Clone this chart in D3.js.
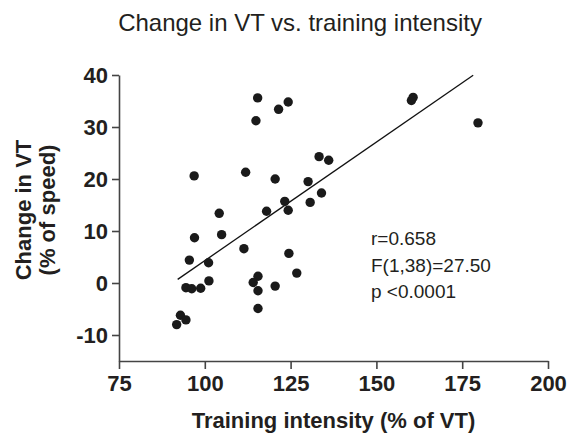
<!DOCTYPE html>
<html>
<head>
<meta charset="utf-8">
<script src="https://cdn.jsdelivr.net/npm/d3@7"></script>
<style>
    body { margin: 0; background: #fff; }
    text { font-family: "Liberation Sans", Arial, sans-serif; fill: #231f20; }
</style>
</head>
<body>
<div id="chart"></div>
<script>

// training intensity (% of VT)
const intensity = [115.4, 114.9, 96.9, 111.9, 120.5, 121.5, 124.3, 160.7, 160.2, 179.6,
    133.3, 136.1, 130.1, 134.0, 123.3, 130.7, 124.3, 104.2, 118.0, 97.0,
    104.9, 111.4, 95.5, 101.1, 101.2, 115.5, 114.1, 115.5, 120.5, 94.5,
    96.2, 98.8, 115.5, 92.9, 94.5, 91.8, 124.5, 126.8];

// change in VT (% of speed)
const changeVT = [35.6, 31.2, 20.6, 21.3, 20.0, 33.4, 34.8, 35.7, 35.1, 30.8,
    24.3, 23.6, 19.5, 17.3, 15.7, 15.5, 14.0, 13.4, 13.8, 8.7,
    9.3, 6.6, 4.4, 3.9, 0.4, 1.3, 0.1, -1.5, -0.6, -0.9,
    -1.1, -1.0, -4.9, -6.2, -7.1, -8.0, 5.7, 1.9];

const xTicks = [75, 100, 125, 150, 175, 200];
const yTicks = [-10, 0, 10, 20, 30, 40];

// regression line
const fitRange = [92.1, 178.2];
const fitSlope = 0.456;
const fitIntercept = -41.3;

const statsText = ["r=0.658", "F(1,38)=27.50", "p <0.0001"];

const margin = { top: 75, right: 22, bottom: 78, left: 119 };
const width = 570 - margin.left - margin.right;
const height = 439 - margin.top - margin.bottom;

const svg = d3.select("#chart")
    .append("svg")
    .attr("width", 570)
    .attr("height", 439);

const g = svg.append("g")
    .attr("transform", "translate(" + margin.left + "," + margin.top + ")");

const x = d3.scaleLinear().domain([75, 200]).range([0, width]);
const y = d3.scaleLinear().domain([-15, 40]).range([height, 0]);

// axes (plain hyphen for negatives, like the original)
const xAxis = g.append("g")
    .attr("transform", "translate(0," + height + ")")
    .call(d3.axisBottom(x).tickValues(xTicks).tickSize(8).tickPadding(6).tickSizeOuter(0));

const yAxis = g.append("g")
    .call(d3.axisLeft(y).tickValues(yTicks).tickFormat(d => String(d))
        .tickSize(7).tickPadding(4).tickSizeOuter(0));

[xAxis, yAxis].forEach(a => {
    a.select(".domain").attr("stroke", "#444").attr("stroke-width", 1.6);
    a.selectAll(".tick line").attr("stroke", "#444").attr("stroke-width", 1.6);
    a.selectAll(".tick text")
        .attr("font-family", "Liberation Sans, Arial, sans-serif")
        .attr("font-size", 22)
        .attr("font-weight", "bold")
        .attr("fill", "#231f20");
});

// regression line
g.append("line")
    .attr("x1", x(fitRange[0]))
    .attr("y1", y(fitSlope * fitRange[0] + fitIntercept))
    .attr("x2", x(fitRange[1]))
    .attr("y2", y(fitSlope * fitRange[1] + fitIntercept))
    .attr("stroke", "#111")
    .attr("stroke-width", 1.3);

// points
g.selectAll("circle")
    .data(intensity.map((d, i) => [d, changeVT[i]]))
    .enter()
    .append("circle")
    .attr("cx", d => x(d[0]))
    .attr("cy", d => y(d[1]))
    .attr("r", 4.7)
    .attr("fill", "#1a1a1a");

// stats
g.selectAll(".stat")
    .data(statsText)
    .enter()
    .append("text")
    .attr("class", "stat")
    .attr("x", 252)
    .attr("y", (d, i) => 170 + i * 26.5)
    .attr("font-size", 19)
    .text(d => d);

// title
svg.append("text")
    .attr("x", 300)
    .attr("y", 31)
    .attr("text-anchor", "middle")
    .attr("font-size", 24)
    .text("Change in VT vs. training intensity");

// axis titles
svg.append("text")
    .attr("x", margin.left + width / 2)
    .attr("y", 428)
    .attr("text-anchor", "middle")
    .attr("font-size", 22)
    .attr("font-weight", "bold")
    .text("Training intensity (% of VT)");

const yTitle = svg.append("text")
    .attr("transform", "translate(0," + 210 + ") rotate(-90)")
    .attr("text-anchor", "middle")
    .attr("font-size", 22)
    .attr("font-weight", "bold");

yTitle.append("tspan").attr("x", 0).attr("y", 31).text("Change in VT");
yTitle.append("tspan").attr("x", 0).attr("y", 55).text("(% of speed)");

</script>
</body>
</html>
